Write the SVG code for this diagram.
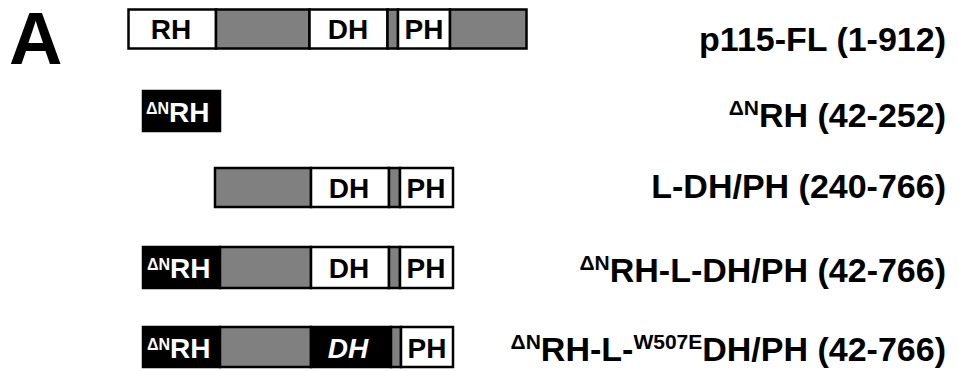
<svg xmlns="http://www.w3.org/2000/svg" width="958" height="371" viewBox="0 0 958 371">
<style>
.s{stroke:#000;stroke-width:2.5}
.w{fill:#fff}
.g{fill:#808080}
.k{fill:#000}
.t{font-family:"Liberation Sans",Arial,sans-serif;font-weight:bold}
.in{font-size:28px;text-anchor:middle}
.lab{font-size:34px;text-anchor:end;fill:#000}
.wt{fill:#fff}
.bt{fill:#000}
</style>
<rect width="958" height="371" fill="#fff"/>
<text class="t" x="9" y="64" font-size="74" fill="#000">A</text>
<g id="connectors"/>
<g id="p115-FL">
<rect class="s w" x="128.5" y="9.5" width="87.5" height="39"/>
<rect class="s g" x="216" y="9.5" width="93.5" height="39"/>
<rect class="s w" x="309.5" y="9.5" width="78" height="39"/>
<rect class="s g" x="387.5" y="9.5" width="10.5" height="39"/>
<rect class="s w" x="398" y="9.5" width="52" height="39"/>
<rect class="s g" x="450" y="9.5" width="76.5" height="39"/>
<text class="t in bt" x="171" y="39">RH</text>
<text class="t in bt" x="348" y="39">DH</text>
<text class="t in bt" x="424" y="39">PH</text>
<text class="t lab" x="946" y="51">p115-FL (1-912)</text>
</g>
<g id="dNRH">
<rect class="s k" x="143" y="91" width="77" height="40"/>
<text class="t wt" x="146" y="121.5" font-size="28"><tspan font-size="16" dy="-8">ΔN</tspan><tspan dy="8">RH</tspan></text>
<text class="t lab" x="946" y="127"><tspan font-size="21" dy="-12">ΔN</tspan><tspan dy="12">RH (42-252)</tspan></text>
</g>
<g id="L-DH-PH">
<rect class="s g" x="215" y="168" width="96" height="39"/>
<rect class="s w" x="311" y="168" width="78" height="39"/>
<rect class="s g" x="389" y="168" width="11" height="39"/>
<rect class="s w" x="400" y="168" width="53" height="39"/>
<text class="t in bt" x="349" y="197.5">DH</text>
<text class="t in bt" x="426" y="197.5">PH</text>
<text class="t lab" x="946" y="198">L-DH/PH (240-766)</text>
</g>
<g id="dNRH-L-DH-PH">
<rect class="s k" x="143" y="247" width="77" height="41"/>
<rect class="s g" x="220" y="247" width="91" height="41"/>
<rect class="s w" x="311" y="247" width="78" height="41"/>
<rect class="s g" x="389" y="247" width="11" height="41"/>
<rect class="s w" x="400" y="247" width="53" height="41"/>
<text class="t wt" x="147" y="278" font-size="28"><tspan font-size="16" dy="-8">ΔN</tspan><tspan dy="8">RH</tspan></text>
<text class="t in bt" x="349" y="278">DH</text>
<text class="t in bt" x="426" y="278">PH</text>
<text class="t lab" x="946" y="282"><tspan font-size="21" dy="-12">ΔN</tspan><tspan dy="12">RH-L-DH/PH (42-766)</tspan></text>
</g>
<g id="dNRH-L-W507E-DH-PH">
<rect class="s k" x="143" y="327" width="77" height="40"/>
<rect class="s g" x="220" y="327" width="91" height="40"/>
<rect class="s k" x="311" y="327" width="80" height="40"/>
<rect class="s g" x="391" y="327" width="10" height="40"/>
<rect class="s w" x="401" y="327" width="52" height="40"/>
<text class="t wt" x="147" y="357.5" font-size="28"><tspan font-size="16" dy="-8">ΔN</tspan><tspan dy="8">RH</tspan></text>
<text class="t in wt" x="348" y="357.5" font-style="italic">DH</text>
<text class="t in bt" x="427" y="357.5">PH</text>
<text class="t lab" x="946" y="361"><tspan font-size="21" dy="-12">ΔN</tspan><tspan dy="12">RH-L-</tspan><tspan font-size="21" dy="-12">W507E</tspan><tspan dy="12">DH/PH (42-766)</tspan></text>
</g>
</svg>
